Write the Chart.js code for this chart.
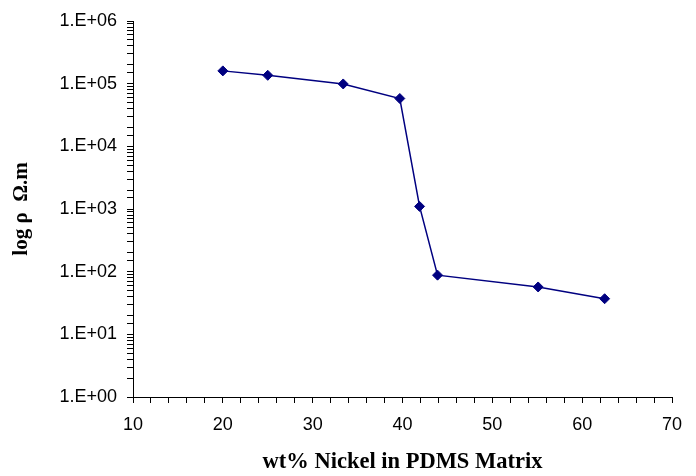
<!DOCTYPE html>
<html>
<head>
<meta charset="utf-8">
<script src="https://cdn.jsdelivr.net/npm/chart.js@4.4.1/dist/chart.umd.min.js"></script>
<style>
    html, body { margin: 0; padding: 0; background: #ffffff; }
    #wrap { width: 696px; height: 476px; }
</style>
</head>
<body>
<div id="wrap"><canvas id="myChart" width="696" height="476"></canvas></div>
<script>
//------------Data-----------------
const nickelWt = [20, 25, 33.4, 39.7, 41.9, 43.9, 55.1, 62.5];          // wt% Ni
const resistivity = [1.6e5, 1.36e5, 9.9e4, 5.8e4, 1.1e3, 88, 57, 37];   // Ohm.m
const xTickLabels = ['10', '20', '30', '40', '50', '60', '70'];
const yTickLabels = ['1.E+00', '1.E+01', '1.E+02', '1.E+03', '1.E+04', '1.E+05', '1.E+06'];

const points = nickelWt.map((x, i) => ({ x: x, y: resistivity[i] }));

const tickFont = { family: 'Liberation Sans, Arial, sans-serif', size: 18 };
const xTitleFont = { family: 'Liberation Serif, Times New Roman, serif', size: 22.5, weight: 'bold' };
const yTitleFont = { family: 'Liberation Serif, Times New Roman, serif', size: 21, weight: 'bold' };

const ctx = document.getElementById('myChart').getContext('2d');

new Chart(ctx, {
    type: 'line',
    data: {
        datasets: [{
            data: points,
            borderColor: '#000080',
            backgroundColor: '#000080',
            borderWidth: 1.5,
            pointStyle: 'rectRot',
            pointRadius: 5,
            pointBorderWidth: 1,
            tension: 0,
            fill: false
        }]
    },
    options: {
        responsive: false,
        animation: false,
        layout: {
            padding: { left: 0, right: 24, top: 21, bottom: 0 }
        },
        plugins: {
            legend: { display: false },
            tooltip: { enabled: false }
        },
        scales: {
            x: {
                type: 'linear',
                min: 10,
                max: 70,
                border: { display: true, color: '#000000', width: 1 },
                grid: { drawOnChartArea: false, drawTicks: true, tickLength: 6, color: '#000000' },
                ticks: {
                    stepSize: 2,
                    autoSkip: false,
                    maxRotation: 0,
                    color: '#000000',
                    font: tickFont,
                    padding: 11,
                    callback: function (value) {
                        const idx = (value - 10) / 10;
                        return Number.isInteger(idx) ? xTickLabels[idx] : '';
                    }
                },
                title: {
                    display: true,
                    text: 'wt% Nickel in PDMS Matrix',
                    color: '#000000',
                    font: xTitleFont,
                    padding: { top: 0, bottom: 0 }
                },
                afterFit: function (scale) { scale.height = 79; }
            },
            y: {
                type: 'logarithmic',
                min: 1,
                max: 1e6,
                border: { display: true, color: '#000000', width: 1 },
                grid: { drawOnChartArea: false, drawTicks: true, tickLength: 6, color: '#000000' },
                ticks: {
                    autoSkip: false,
                    color: '#000000',
                    font: tickFont,
                    padding: 10,
                    callback: function (value) {
                        const p = Math.log10(value);
                        return Math.abs(p - Math.round(p)) < 1e-9 ? yTickLabels[Math.round(p)] : '';
                    }
                },
                title: {
                    display: true,
                    text: 'log ρ  Ω.m',
                    color: '#000000',
                    font: yTitleFont,
                    padding: { top: 9, bottom: 0 }
                },
                afterFit: function (scale) { scale.width = 133; }
            }
        }
    }
});
</script>
</body>
</html>
